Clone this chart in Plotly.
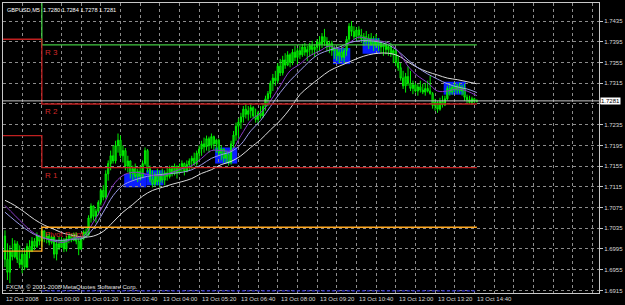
import plotly.graph_objects as go
import pandas as pd

# ---------------- data ----------------
symbol = "GBPUSD,M5"
first_bar = "2008-10-12 22:45"
day_start = "2008-10-13 00:00"

# prices in pips (1/10000)
open_pips = [17020,16975,16950,16990,16980,17005,16975,16965,16985,16960,17000,16990,17010,17000,17020,
 17010,17030,17015,17020,17008,17018,16985,17005,16998,17012,16995,17015,17020,17012,17024,
 17010,16995,17015,17028,17022,17055,17078,17058,17068,17085,17108,17095,17140,17160,17175,
 17165,17195,17205,17175,17185,17155,17165,17140,17150,17135,17145,17135,17160,17185,17150,
 17130,17120,17138,17125,17140,17128,17142,17135,17150,17140,17155,17142,17152,17160,17145,
 17158,17165,17170,17160,17180,17188,17198,17192,17208,17195,17212,17198,17205,17180,17188,
 17170,17178,17162,17198,17215,17232,17240,17250,17265,17255,17262,17268,17252,17245,17258,
 17252,17270,17285,17295,17315,17325,17320,17348,17335,17360,17350,17370,17355,17375,17365,
 17378,17370,17385,17375,17380,17388,17380,17385,17395,17390,17405,17395,17385,17392,17378,
 17383,17368,17375,17365,17378,17400,17425,17415,17405,17418,17408,17400,17405,17395,17402,
 17390,17398,17388,17395,17385,17390,17380,17386,17372,17378,17355,17345,17325,17310,17328,
 17315,17305,17312,17300,17308,17302,17298,17305,17300,17295,17272,17278,17265,17280,17273,
 17285,17305,17298,17308,17302,17310,17300,17306,17288,17283,17278,17285,17280]
high_pips = [17031,17006,17002,17016,17012,17010,17002,16993,16997,17006,17012,17018,17016,17027,17021,
 17035,17031,17025,17027,17021,17020,17012,17018,17018,17016,17020,17025,17025,17027,17027,
 17016,17020,17031,17035,17060,17083,17079,17073,17089,17112,17118,17147,17166,17185,17195,
 17204,17218,17214,17195,17190,17175,17166,17156,17160,17150,17156,17166,17191,17188,17156,
 17147,17143,17150,17147,17150,17147,17152,17156,17156,17160,17156,17160,17166,17162,17166,
 17170,17175,17181,17185,17195,17204,17210,17214,17212,17218,17214,17208,17208,17195,17189,
 17185,17181,17204,17223,17239,17247,17258,17271,17275,17271,17275,17271,17266,17262,17271,
 17275,17291,17300,17320,17333,17339,17354,17362,17368,17373,17377,17373,17381,17387,17383,
 17387,17391,17393,17387,17393,17397,17391,17400,17406,17412,17420,17404,17397,17397,17387,
 17386,17381,17387,17383,17406,17431,17435,17425,17423,17425,17420,17412,17416,17410,17412,
 17406,17410,17402,17397,17393,17397,17389,17393,17381,17383,17368,17354,17339,17335,17348,
 17339,17320,17316,17314,17320,17314,17316,17320,17329,17298,17285,17281,17287,17291,17291,
 17310,17314,17312,17316,17314,17316,17312,17314,17293,17291,17289,17287,17284]
low_pips = [16960,16935,16929,16973,16977,16968,16958,16948,16954,16958,16977,16989,16993,16997,17002,
 16999,17008,17006,17002,17004,16977,16973,16993,16997,16989,16990,17006,17008,17010,17004,
 16983,16993,17012,17016,17020,17046,17050,17046,17060,17079,17089,17092,17127,17147,17160,
 17160,17181,17170,17162,17147,17143,17131,17127,17131,17124,17127,17131,17156,17143,17124,
 17114,17116,17118,17114,17122,17118,17127,17131,17135,17137,17131,17139,17143,17137,17143,
 17147,17150,17156,17156,17166,17175,17181,17185,17181,17189,17185,17181,17175,17166,17162,
 17160,17156,17158,17189,17204,17208,17227,17239,17247,17243,17248,17247,17239,17237,17247,
 17248,17262,17271,17287,17300,17310,17315,17329,17330,17343,17348,17346,17350,17358,17352,
 17362,17366,17368,17358,17366,17370,17366,17373,17377,17383,17387,17377,17373,17368,17362,
 17358,17354,17358,17354,17368,17393,17406,17400,17397,17400,17393,17387,17391,17381,17387,
 17377,17383,17377,17373,17368,17371,17368,17366,17354,17348,17339,17320,17304,17297,17310,
 17300,17294,17297,17291,17297,17294,17291,17297,17293,17266,17262,17258,17262,17268,17271,
 17282,17291,17293,17297,17295,17295,17291,17281,17277,17275,17273,17277,17278]
close_pips = [16975,16950,16990,16980,17005,16975,16965,16985,16960,17000,16990,17010,17000,17020,17010,
 17030,17015,17020,17008,17018,16985,17005,16998,17012,16995,17015,17020,17012,17024,17010,
 16995,17015,17028,17022,17055,17078,17058,17068,17085,17108,17095,17140,17160,17175,17165,
 17195,17205,17175,17185,17155,17165,17140,17150,17135,17145,17135,17160,17185,17150,17130,
 17120,17138,17125,17140,17128,17142,17135,17150,17140,17155,17142,17152,17160,17145,17158,
 17165,17170,17160,17180,17188,17198,17192,17208,17195,17212,17198,17205,17180,17188,17170,
 17178,17162,17198,17215,17232,17240,17250,17265,17255,17262,17268,17252,17245,17258,17252,
 17270,17285,17295,17315,17325,17320,17348,17335,17360,17350,17370,17355,17375,17365,17378,
 17370,17385,17375,17380,17388,17380,17385,17395,17390,17405,17395,17385,17392,17378,17383,
 17368,17375,17365,17378,17400,17425,17415,17405,17418,17408,17400,17405,17395,17402,17390,
 17398,17388,17395,17385,17390,17380,17386,17372,17378,17355,17345,17325,17310,17328,17315,
 17305,17312,17300,17308,17302,17298,17305,17300,17295,17272,17278,17265,17280,17273,17285,
 17305,17298,17308,17302,17310,17300,17306,17288,17283,17278,17285,17280,17281]

# moving averages, sampled every 4th bar (pips)
ma_slow_pips = [17089,17079,17066,17052,17041,17033,17025,17021,17018,17020,17029,17047,17066,17081,17097,
 17108,17114,17120,17125,17131,17141,17148,17158,17164,17175,17191,17206,17225,17243,17266,
 17293,17310,17325,17339,17348,17356,17364,17370,17373,17373,17368,17356,17345,17337,17331,
 17325,17322,17318,17314]
ma_mid_pips = [17066,17050,17035,17023,17016,17012,17012,17014,17016,17035,17066,17098,17118,17127,17133,
 17137,17139,17141,17143,17148,17158,17170,17177,17183,17197,17223,17243,17270,17297,17320,
 17339,17358,17372,17379,17385,17393,17397,17397,17395,17389,17377,17360,17345,17333,17323,
 17314,17308,17304,17297]
ma_fast_pips = [17079,17060,17041,17025,17016,17010,17008,17016,17020,17047,17079,17118,17137,17143,17141,
 17137,17137,17143,17150,17156,17170,17185,17185,17185,17214,17243,17258,17281,17310,17339,
 17352,17368,17377,17387,17381,17393,17404,17400,17397,17393,17377,17348,17329,17316,17300,
 17300,17304,17300,17291]

# pivot levels: previous day / current day
level_names = ["R 3", "R 2", "R 1", "Pivot Point"]
level_prev = [1.7530, 1.7400, 1.7214, 1.6991]
level_today = [1.7389, 1.7275, 1.7152, 1.7037]
s1_today = 1.6914

# highlighted zones
zone_from = ["2008-10-13 02:50", "2008-10-13 03:35", "2008-10-13 05:55",
             "2008-10-13 09:55", "2008-10-13 10:55", "2008-10-13 13:40"]
zone_to = ["2008-10-13 03:30", "2008-10-13 04:05", "2008-10-13 06:35",
           "2008-10-13 10:25", "2008-10-13 11:25", "2008-10-13 14:20"]
zone_low = [1.7114, 1.7118, 1.7160, 1.7352, 1.7372, 1.7293]
zone_high = [1.7140, 1.7147, 1.7191, 1.7383, 1.7402, 1.7318]

y_tick_values = [1.6915, 1.6955, 1.6995, 1.7035, 1.7075, 1.7115, 1.7155,
                 1.7195, 1.7235, 1.7275, 1.7315, 1.7355, 1.7395, 1.7435]
x_tick_times = ["2008-10-12 22:45", "2008-10-13 00:00", "2008-10-13 01:20", "2008-10-13 02:40",
                "2008-10-13 04:00", "2008-10-13 05:20", "2008-10-13 06:40", "2008-10-13 08:00",
                "2008-10-13 09:20", "2008-10-13 10:40", "2008-10-13 12:00", "2008-10-13 13:20",
                "2008-10-13 14:40"]
x_tick_labels = ["12 Oct 2008", "13 Oct 00:00", "13 Oct 01:20", "13 Oct 02:40", "13 Oct 04:00",
                 "13 Oct 05:20", "13 Oct 06:40", "13 Oct 08:00", "13 Oct 09:20", "13 Oct 10:40",
                 "13 Oct 12:00", "13 Oct 13:20", "13 Oct 14:40"]
copyright_text = "FXCM, \u00a9 2001-2008 MetaQuotes Software Corp."

# ---------------- build ----------------
o = [v / 10000 for v in open_pips]
h = [v / 10000 for v in high_pips]
l = [v / 10000 for v in low_pips]
c = [v / 10000 for v in close_pips]
times = pd.date_range(first_bar, periods=len(o), freq="5min")
ma_times = times[::4]
half = pd.Timedelta(minutes=2.5)
x_left = pd.Timestamp("2008-10-12 22:41")
x_right = pd.Timestamp("2008-10-13 18:53:30")
last_t = times[-1]
d0 = pd.Timestamp(day_start)

FONT = "Liberation Sans"
fig = go.Figure()

fig.add_trace(go.Candlestick(
    x=times, open=o, high=h, low=l, close=c,
    increasing=dict(line=dict(color="#00F000", width=1), fillcolor="#00A000"),
    decreasing=dict(line=dict(color="#00F000", width=1), fillcolor="#005800"),
    whiskerwidth=0, hoverinfo="skip", showlegend=False))

for vals, col in [(ma_slow_pips, "#DCDCDC"), (ma_mid_pips, "#9C9CE8"), (ma_fast_pips, "#8A3CC8")]:
    fig.add_trace(go.Scatter(x=ma_times, y=[v / 10000 for v in vals], mode="lines",
                             line=dict(color=col, width=1, shape="spline", smoothing=1.0),
                             hoverinfo="skip", showlegend=False))

level_colors = ["#40C840", "#C02020", "#C02020", "#FFA820"]
for name, pv, tv, col in zip(level_names, level_prev, level_today, level_colors):
    fig.add_trace(go.Scatter(x=[x_left, d0, d0, last_t], y=[pv, pv, tv, tv], mode="lines",
                             line=dict(color=col, width=1.3), hoverinfo="skip", showlegend=False))
    fig.add_annotation(x=d0, y=tv, xref="x", yref="y", text=name, showarrow=False,
                       xanchor="left", yanchor="top", xshift=1, yshift=-1,
                       font=dict(family=FONT, size=8, color="#D02828"))

fig.add_trace(go.Scatter(x=[d0, last_t], y=[s1_today, s1_today], mode="lines",
                         line=dict(color="#3030D8", width=1.2, dash="3px,2px"),
                         hoverinfo="skip", showlegend=False))

for z0, z1, lo, hi in zip(zone_from, zone_to, zone_low, zone_high):
    fig.add_shape(type="rect", xref="x", yref="y",
                  x0=pd.Timestamp(z0) - half, x1=pd.Timestamp(z1) + half, y0=lo, y1=hi,
                  fillcolor="#0A1EFF", line=dict(width=0), layer="below")

# bid line
fig.add_shape(type="line", xref="paper", yref="y", x0=0, x1=1, y0=c[-1], y1=c[-1],
              line=dict(color="#C8C8C8", width=1))

fig.add_annotation(x=1, xref="paper", y=c[-1], yref="y", text=f"{c[-1]:.4f}", showarrow=False,
                   xanchor="left", xshift=1, bgcolor="white", borderpad=0,
                   font=dict(family=FONT, size=6, color="black"))

for t, lab in zip(x_tick_times, x_tick_labels):
    fig.add_annotation(x=pd.Timestamp(t), xref="x", y=0, yref="paper", text=lab, showarrow=False,
                       xanchor="left", yanchor="top", yshift=-1, xshift=(-1 if t == x_tick_times[0] else 1),
                       font=dict(family=FONT, size=6, color="#D8D8D8"))

fig.add_annotation(x=0, xref="paper", y=1, yref="paper", xanchor="left", yanchor="top",
                   xshift=2, yshift=-2, showarrow=False,
                   text=f"{symbol}  {o[-1]:.4f} {h[-1]:.4f} {l[-1]:.4f} {c[-1]:.4f}",
                   font=dict(family=FONT, size=5.6, color="white"))
fig.add_annotation(x=0, xref="paper", y=0, yref="paper", xanchor="left", yanchor="bottom",
                   xshift=1, yshift=1, showarrow=False, text=copyright_text,
                   font=dict(family=FONT, size=6, color="#E0E0E0"))

# the bid price box covers the tick label nearest to it
bid_box_cover = 0.0012
y_tick_text = ["" if abs(v - c[-1]) < bid_box_cover else f"{v:.4f}" for v in y_tick_values]

fig.update_layout(
    width=625, height=305, margin=dict(l=2, r=23, t=2, b=12),
    paper_bgcolor="black", plot_bgcolor="black", showlegend=False,
    font=dict(family=FONT, size=6, color="#D8D8D8"),
    xaxis=dict(type="date", range=[x_left, x_right], rangeslider=dict(visible=False),
               showgrid=True, gridcolor="#8C8C8C", griddash="3px,3px", gridwidth=1,
               tick0=day_start, dtick=40 * 60 * 1000, showticklabels=False, ticks="",
               showline=True, linecolor="#C8C8C8", linewidth=1, mirror=True, zeroline=False),
    yaxis=dict(side="right", range=[1.6910, 1.7470], tickmode="array",
               tickvals=y_tick_values, ticktext=y_tick_text,
               showgrid=True, gridcolor="#8C8C8C", griddash="3px,3px", gridwidth=1,
               ticks="outside", ticklen=3, tickcolor="#C8C8C8",
               tickfont=dict(family=FONT, size=6, color="#D8D8D8"),
               showline=True, linecolor="#C8C8C8", linewidth=1, mirror=True, zeroline=False),
)

fig.write_html("out.html")
